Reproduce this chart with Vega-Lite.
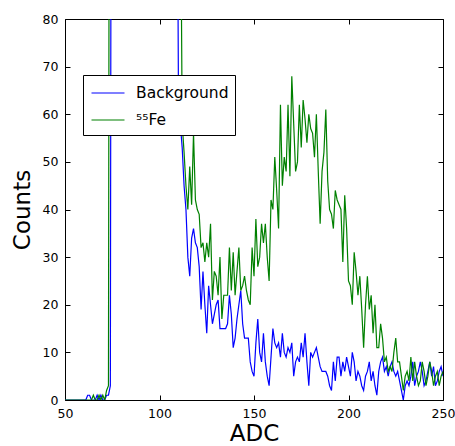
{
"$schema": "https://vega.github.io/schema/vega-lite/v6.json",
"width": 378, "height": 381,
"autosize": {"type": "none"},
"padding": {"left": 65, "top": 19, "right": 12, "bottom": 46},
"background": "white",
"config": {
 "font": "DejaVu Sans",
 "view": {"stroke": "black", "strokeWidth": 1},
 "axis": {"grid": false, "domain": false, "labelFlush": false, "tickColor": "black", "tickSize": -5, "tickWidth": 1, "labelPadding": 12, "labelFontSize": 12.5, "labelColor": "black", "titleFontSize": 23, "titleFontWeight": "normal", "titleColor": "black", "titlePadding": 6}
},
"data": {"values": [
{"adc":50,"Background":0,"Fe55":0},{"adc":51,"Background":0,"Fe55":0},{"adc":52,"Background":0,"Fe55":0},{"adc":53,"Background":0,"Fe55":0},{"adc":54,"Background":0,"Fe55":0},{"adc":55,"Background":0,"Fe55":0},{"adc":56,"Background":0,"Fe55":0},{"adc":57,"Background":0,"Fe55":0},{"adc":58,"Background":0,"Fe55":0},{"adc":59,"Background":0,"Fe55":0},{"adc":60,"Background":0,"Fe55":0},{"adc":61,"Background":0,"Fe55":0},
{"adc":62,"Background":1,"Fe55":0},{"adc":63,"Background":1,"Fe55":0},{"adc":64,"Background":0,"Fe55":0},{"adc":65,"Background":0,"Fe55":1},{"adc":66,"Background":0,"Fe55":0},{"adc":67,"Background":1,"Fe55":0},{"adc":68,"Background":0,"Fe55":1},{"adc":69,"Background":1,"Fe55":0},{"adc":70,"Background":0,"Fe55":1},{"adc":71,"Background":0,"Fe55":0},{"adc":72,"Background":1,"Fe55":2},{"adc":73,"Background":1,"Fe55":3},{"adc":74,"Background":3,"Fe55":300},
{"adc":75,"Background":300,"Fe55":300},{"adc":76,"Background":300,"Fe55":300},{"adc":77,"Background":300,"Fe55":300},{"adc":78,"Background":300,"Fe55":300},{"adc":79,"Background":300,"Fe55":300},{"adc":80,"Background":300,"Fe55":300},{"adc":81,"Background":300,"Fe55":300},{"adc":82,"Background":300,"Fe55":300},{"adc":83,"Background":300,"Fe55":300},{"adc":84,"Background":300,"Fe55":300},{"adc":85,"Background":300,"Fe55":300},{"adc":86,"Background":300,"Fe55":300},{"adc":87,"Background":300,"Fe55":300},{"adc":88,"Background":300,"Fe55":300},{"adc":89,"Background":300,"Fe55":300},{"adc":90,"Background":300,"Fe55":300},{"adc":91,"Background":300,"Fe55":300},{"adc":92,"Background":300,"Fe55":300},{"adc":93,"Background":300,"Fe55":300},{"adc":94,"Background":300,"Fe55":300},{"adc":95,"Background":300,"Fe55":300},{"adc":96,"Background":300,"Fe55":300},{"adc":97,"Background":300,"Fe55":300},{"adc":98,"Background":300,"Fe55":300},{"adc":99,"Background":300,"Fe55":300},{"adc":100,"Background":300,"Fe55":300},{"adc":101,"Background":300,"Fe55":300},{"adc":102,"Background":300,"Fe55":300},{"adc":103,"Background":300,"Fe55":300},{"adc":104,"Background":300,"Fe55":300},{"adc":105,"Background":300,"Fe55":300},{"adc":106,"Background":300,"Fe55":300},{"adc":107,"Background":300,"Fe55":300},{"adc":108,"Background":300,"Fe55":300},
{"adc":109,"Background":150,"Fe55":300},{"adc":110,"Background":66,"Fe55":300},{"adc":111,"Background":58,"Fe55":120},{"adc":112,"Background":53,"Fe55":58},{"adc":113,"Background":45,"Fe55":52},{"adc":114,"Background":40,"Fe55":45},{"adc":115,"Background":30,"Fe55":40},{"adc":116,"Background":26,"Fe55":49},{"adc":117,"Background":34,"Fe55":41},{"adc":118,"Background":36,"Fe55":56},{"adc":119,"Background":33,"Fe55":42},{"adc":120,"Background":32,"Fe55":40},
{"adc":121,"Background":28,"Fe55":39},{"adc":122,"Background":19,"Fe55":32},{"adc":123,"Background":27,"Fe55":33},{"adc":124,"Background":20,"Fe55":29},{"adc":125,"Background":14,"Fe55":33},{"adc":126,"Background":24,"Fe55":30},{"adc":127,"Background":20,"Fe55":37},{"adc":128,"Background":16,"Fe55":21},{"adc":129,"Background":18,"Fe55":27},{"adc":130,"Background":20,"Fe55":26},
{"adc":131,"Background":21,"Fe55":22},{"adc":132,"Background":15,"Fe55":30},{"adc":133,"Background":15,"Fe55":17},{"adc":134,"Background":15,"Fe55":22},{"adc":135,"Background":15,"Fe55":22},{"adc":136,"Background":16,"Fe55":22},{"adc":137,"Background":22,"Fe55":32},{"adc":138,"Background":18,"Fe55":23},{"adc":139,"Background":11,"Fe55":31},{"adc":140,"Background":13,"Fe55":22},
{"adc":141,"Background":17,"Fe55":27},{"adc":142,"Background":20,"Fe55":32},{"adc":143,"Background":23,"Fe55":23},{"adc":144,"Background":16,"Fe55":24},{"adc":145,"Background":13,"Fe55":26},{"adc":146,"Background":13,"Fe55":23},{"adc":147,"Background":13,"Fe55":21},{"adc":148,"Background":8,"Fe55":20},{"adc":149,"Background":6,"Fe55":32},{"adc":150,"Background":5,"Fe55":26},
{"adc":151,"Background":12,"Fe55":38},{"adc":152,"Background":17,"Fe55":28},{"adc":153,"Background":10,"Fe55":30},{"adc":154,"Background":8,"Fe55":37},{"adc":155,"Background":14,"Fe55":33},{"adc":156,"Background":8,"Fe55":37},{"adc":157,"Background":5,"Fe55":30},{"adc":158,"Background":3,"Fe55":25},{"adc":159,"Background":9,"Fe55":42},{"adc":160,"Background":15,"Fe55":40},
{"adc":161,"Background":12,"Fe55":51},{"adc":162,"Background":11,"Fe55":44},{"adc":163,"Background":12,"Fe55":36},{"adc":164,"Background":9,"Fe55":62},{"adc":165,"Background":14,"Fe55":45},{"adc":166,"Background":10,"Fe55":51},{"adc":167,"Background":9,"Fe55":48},{"adc":168,"Background":11,"Fe55":62},{"adc":169,"Background":10,"Fe55":47},{"adc":170,"Background":12,"Fe55":68},
{"adc":171,"Background":5,"Fe55":58},{"adc":172,"Background":8,"Fe55":48},{"adc":173,"Background":9,"Fe55":50},{"adc":174,"Background":8,"Fe55":62},{"adc":175,"Background":12,"Fe55":53},{"adc":176,"Background":9,"Fe55":63},{"adc":177,"Background":14,"Fe55":59},{"adc":178,"Background":8,"Fe55":54},{"adc":179,"Background":3,"Fe55":60},{"adc":180,"Background":10,"Fe55":57},
{"adc":181,"Background":9,"Fe55":56},{"adc":182,"Background":10,"Fe55":51},{"adc":183,"Background":11,"Fe55":60},{"adc":184,"Background":9,"Fe55":48},{"adc":185,"Background":7,"Fe55":37},{"adc":186,"Background":6,"Fe55":48},{"adc":187,"Background":6,"Fe55":52},{"adc":188,"Background":6,"Fe55":61},{"adc":189,"Background":5,"Fe55":46},{"adc":190,"Background":3,"Fe55":40},
{"adc":191,"Background":2,"Fe55":39},{"adc":192,"Background":8,"Fe55":36},{"adc":193,"Background":4,"Fe55":44},{"adc":194,"Background":9,"Fe55":42},{"adc":195,"Background":9,"Fe55":41},{"adc":196,"Background":5,"Fe55":40},{"adc":197,"Background":8,"Fe55":29},{"adc":198,"Background":6,"Fe55":43},{"adc":199,"Background":9,"Fe55":36},{"adc":200,"Background":7,"Fe55":25},
{"adc":201,"Background":5,"Fe55":24},{"adc":202,"Background":10,"Fe55":20},{"adc":203,"Background":8,"Fe55":31},{"adc":204,"Background":4,"Fe55":27},{"adc":205,"Background":6,"Fe55":22},{"adc":206,"Background":5,"Fe55":26},{"adc":207,"Background":3,"Fe55":19},{"adc":208,"Background":2,"Fe55":11},{"adc":209,"Background":5,"Fe55":20},{"adc":210,"Background":6,"Fe55":26},
{"adc":211,"Background":8,"Fe55":19},{"adc":212,"Background":4,"Fe55":22},{"adc":213,"Background":6,"Fe55":14},{"adc":214,"Background":3,"Fe55":20},{"adc":215,"Background":1,"Fe55":11},{"adc":216,"Background":6,"Fe55":11},{"adc":217,"Background":8,"Fe55":16},{"adc":218,"Background":9,"Fe55":13},{"adc":219,"Background":6,"Fe55":8},{"adc":220,"Background":7,"Fe55":9},
{"adc":221,"Background":5,"Fe55":6},{"adc":222,"Background":7,"Fe55":7},{"adc":223,"Background":8,"Fe55":6},{"adc":224,"Background":6,"Fe55":10},{"adc":225,"Background":5,"Fe55":13},{"adc":226,"Background":6,"Fe55":8},{"adc":227,"Background":4,"Fe55":8},{"adc":228,"Background":2,"Fe55":5},{"adc":229,"Background":0,"Fe55":2},{"adc":230,"Background":3,"Fe55":5},
{"adc":231,"Background":4,"Fe55":6},{"adc":232,"Background":3,"Fe55":4},{"adc":233,"Background":5,"Fe55":9},{"adc":234,"Background":8,"Fe55":4},{"adc":235,"Background":3,"Fe55":8},{"adc":236,"Background":5,"Fe55":5},{"adc":237,"Background":6,"Fe55":3},{"adc":238,"Background":8,"Fe55":4},{"adc":239,"Background":6,"Fe55":8},{"adc":240,"Background":3,"Fe55":6},
{"adc":241,"Background":4,"Fe55":3},{"adc":242,"Background":6,"Fe55":5},{"adc":243,"Background":8,"Fe55":8},{"adc":244,"Background":5,"Fe55":6},{"adc":245,"Background":7,"Fe55":3},{"adc":246,"Background":3,"Fe55":5},{"adc":247,"Background":4,"Fe55":6},{"adc":248,"Background":6,"Fe55":3},{"adc":249,"Background":7,"Fe55":5},{"adc":250,"Background":5,"Fe55":6}
]},
"transform": [{"fold": ["Background", "Fe55"], "as": ["series", "count"]}],
"encoding": {
 "color": {"field": "series", "type": "nominal",
  "scale": {"domain": ["Background", "Fe55"], "range": ["#0000ff", "#008000"]},
  "legend": {"title": null, "orient": "none", "legendX": 18, "legendY": 56, "strokeColor": "black", "fillColor": "white", "padding": 6, "symbolType": "M-1.5,0H1.5", "symbolSize": 484, "symbolOffset": 7, "symbolStrokeWidth": 1.2, "labelFontSize": 15.5, "labelColor": "black", "labelOffset": 16, "rowPadding": 6, "cornerRadius": 0,
   "labelExpr": "datum.label == 'Fe55' ? '⁵⁵Fe' : datum.label + '\u00a0'"}}
},
"layer": [
 {"transform": [{"filter": "datum.series == 'Background'"}],
  "mark": {"type": "line", "clip": true, "strokeWidth": 1.2},
  "encoding": {
   "x": {"field": "adc", "type": "quantitative", "scale": {"domain": [50, 250], "nice": false}, "axis": {"orient": "bottom", "title": "ADC", "titlePadding": 3, "values": [50, 100, 150, 200, 250]}},
   "y": {"field": "count", "type": "quantitative", "scale": {"domain": [0, 80], "nice": false}, "axis": {"orient": "left", "title": "Counts", "titlePadding": 8, "values": [0, 10, 20, 30, 40, 50, 60, 70, 80]}}
  }},
 {"transform": [{"filter": "datum.series == 'Fe55'"}],
  "mark": {"type": "line", "clip": true, "strokeWidth": 1.2},
  "encoding": {
   "x": {"field": "adc", "type": "quantitative", "scale": {"domain": [50, 250], "nice": false}, "axis": {"orient": "top", "title": null, "labels": false, "values": [50, 100, 150, 200, 250]}},
   "y": {"field": "count", "type": "quantitative", "scale": {"domain": [0, 80], "nice": false}, "axis": {"orient": "right", "title": null, "labels": false, "values": [0, 10, 20, 30, 40, 50, 60, 70, 80]}}
  }}
],
"resolve": {"axis": {"x": "independent", "y": "independent"}}
}
